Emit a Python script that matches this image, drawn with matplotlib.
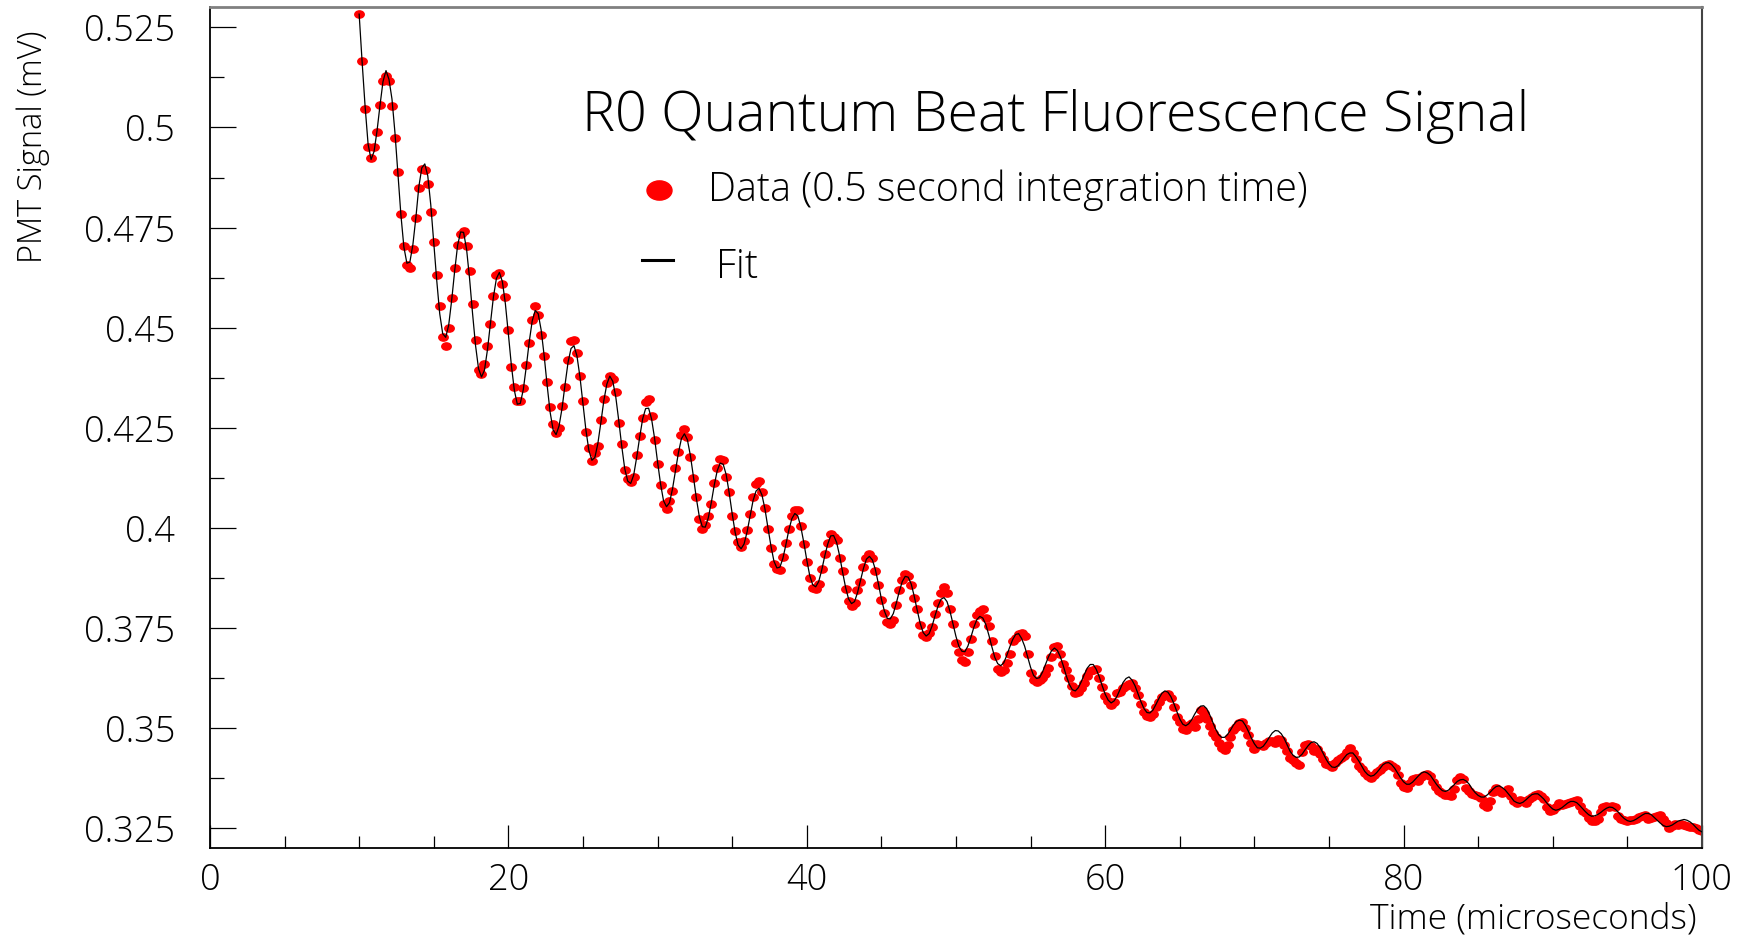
"""R0 quantum beat fluorescence signal: PMT data with the fitted curve overlaid."""
import numpy as np
import matplotlib
matplotlib.use("Agg")
import matplotlib.pyplot as plt
from matplotlib import font_manager
from matplotlib.lines import Line2D
from matplotlib.path import Path
from matplotlib.ticker import MultipleLocator
from matplotlib.transforms import Affine2D

# ---- data (signal in mV, one sample every 0.2 us from 10 us) ----
T_START, T_STEP = 10.0, 0.2

signal = [
    0.5284, 0.5165, 0.5046, 0.4950, 0.4923, 0.4952, 0.4988, 0.5057, 0.5117, 0.5128,
    0.5117, 0.5054, 0.4973, 0.4889, 0.4785, 0.4703, 0.4656, 0.4649, 0.4696, 0.4773,
    0.4849, 0.4896, 0.4893, 0.4860, 0.4788,
    0.4713, 0.4632, 0.4553, 0.4478, 0.4455, 0.4499, 0.4575, 0.4649, 0.4707, 0.4735,
    0.4742, 0.4704, 0.4642, 0.4560, 0.4469, 0.4395, 0.4384, 0.4410, 0.4455, 0.4508,
    0.4580, 0.4631, 0.4637, 0.4610, 0.4577,
    0.4493, 0.4403, 0.4352, 0.4316, 0.4316, 0.4350, 0.4406, 0.4461, 0.4518, 0.4555,
    0.4531, 0.4481, 0.4430, 0.4364, 0.4302, 0.4259, 0.4236, 0.4249, 0.4305, 0.4352,
    0.4420, 0.4466, 0.4470, 0.4438, 0.4380,
    0.4316, 0.4240, 0.4200, 0.4168, 0.4186, 0.4205, 0.4270, 0.4322, 0.4362, 0.4380,
    0.4373, 0.4340, 0.4262, 0.4210, 0.4145, 0.4122, 0.4114, 0.4128, 0.4182, 0.4230,
    0.4275, 0.4315, 0.4321, 0.4280, 0.4220,
    0.4160, 0.4108, 0.4060, 0.4048, 0.4066, 0.4092, 0.4150, 0.4190, 0.4232, 0.4246,
    0.4228, 0.4178, 0.4124, 0.4078, 0.4022, 0.3998, 0.4008, 0.4030, 0.4060, 0.4112,
    0.4150, 0.4172, 0.4170, 0.4128, 0.4090,
    0.4030, 0.3992, 0.3965, 0.3952, 0.3968, 0.3995, 0.4035, 0.4078, 0.4110, 0.4118,
    0.4090, 0.4050, 0.3998, 0.3950, 0.3910, 0.3898, 0.3895, 0.3928, 0.3962, 0.3998,
    0.4030, 0.4045, 0.4044, 0.4005, 0.3960,
    0.3915, 0.3875, 0.3850, 0.3848, 0.3860, 0.3898, 0.3934, 0.3962, 0.3985, 0.3978,
    0.3970, 0.3925, 0.3893, 0.3848, 0.3818, 0.3805, 0.3812, 0.3845, 0.3866, 0.3903,
    0.3926, 0.3936, 0.3925, 0.3892, 0.3858,
    0.3820, 0.3788, 0.3765, 0.3760, 0.3770, 0.3808, 0.3845, 0.3870, 0.3884, 0.3880,
    0.3858, 0.3826, 0.3798, 0.3758, 0.3733, 0.3727, 0.3738, 0.3752, 0.3786, 0.3812,
    0.3838, 0.3852, 0.3838, 0.3798, 0.3760,
    0.3712, 0.3690, 0.3670, 0.3666, 0.3690, 0.3722, 0.3760, 0.3782, 0.3792, 0.3797,
    0.3774, 0.3756, 0.3718, 0.3680, 0.3648, 0.3640, 0.3646, 0.3662, 0.3686, 0.3718,
    0.3726, 0.3735, 0.3738, 0.3729, 0.3684,
    0.3638, 0.3620, 0.3615, 0.3620, 0.3626, 0.3635, 0.3650, 0.3677, 0.3703, 0.3705,
    0.3684, 0.3660, 0.3645, 0.3625, 0.3605, 0.3587, 0.3590, 0.3600, 0.3612, 0.3630,
    0.3642, 0.3645, 0.3648, 0.3626, 0.3604,
    0.3580, 0.3568, 0.3558, 0.3566, 0.3588, 0.3590, 0.3600, 0.3606, 0.3610, 0.3612,
    0.3600, 0.3583, 0.3560, 0.3540, 0.3530, 0.3528, 0.3536, 0.3552, 0.3566, 0.3578,
    0.3584, 0.3586, 0.3575, 0.3552, 0.3529,
    0.3515, 0.3497, 0.3496, 0.3508, 0.3512, 0.3502, 0.3522, 0.3545, 0.3538, 0.3524,
    0.3505, 0.3489, 0.3478, 0.3462, 0.3450, 0.3446, 0.3457, 0.3478, 0.3496, 0.3504,
    0.3512, 0.3516, 0.3500, 0.3482, 0.3462,
    0.3448, 0.3461, 0.3457, 0.3455, 0.3462, 0.3467, 0.3469, 0.3464, 0.3474, 0.3470,
    0.3458, 0.3444, 0.3425, 0.3420, 0.3414, 0.3408, 0.3440, 0.3458, 0.3460, 0.3456,
    0.3442, 0.3448, 0.3435, 0.3422, 0.3410,
    0.3408, 0.3404, 0.3414, 0.3420, 0.3425, 0.3430, 0.3440, 0.3450, 0.3438, 0.3422,
    0.3406, 0.3398, 0.3388, 0.3380, 0.3376, 0.3384, 0.3390, 0.3396, 0.3402, 0.3408,
    0.3410, 0.3405, 0.3401, 0.3382, 0.3362,
    0.3352, 0.3350, 0.3362, 0.3374, 0.3375, 0.3368, 0.3378, 0.3384, 0.3386, 0.3381,
    0.3365, 0.3352, 0.3344, 0.3338, 0.3334, 0.3332, 0.3331, 0.3348, 0.3370, 0.3377,
    0.3372, 0.3351, 0.3342, 0.3336, 0.3333,
    0.3330, 0.3325, 0.3308, 0.3304, 0.3318, 0.3340, 0.3350, 0.3344, 0.3337, 0.3340,
    0.3348, 0.3331, 0.3318, 0.3313, 0.3320, 0.3318, 0.3313, 0.3323, 0.3329, 0.3333,
    0.3336, 0.3330, 0.3322, 0.3302, 0.3292,
    0.3296, 0.3304, 0.3313, 0.3309, 0.3310, 0.3313, 0.3315, 0.3318, 0.3321, 0.3305,
    0.3294, 0.3287, 0.3275, 0.3268, 0.3267, 0.3272, 0.3290, 0.3302, 0.3306, 0.3304,
    0.3305, 0.3302, 0.3280, 0.3274, 0.3270,
    0.3269, 0.3270, 0.3271, 0.3272, 0.3277, 0.3280, 0.3283, 0.3272, 0.3275, 0.3279,
    0.3281, 0.3283, 0.3272, 0.3262, 0.3250, 0.3256, 0.3261, 0.3258, 0.3261, 0.3259,
    0.3256, 0.3254, 0.3253, 0.3250, 0.3246,
    0.3242,
]

fit = [
    0.5283, 0.5163, 0.5052, 0.4958, 0.4920, 0.4940, 0.4992, 0.5056, 0.5115, 0.5142,
    0.5120, 0.5071, 0.4987, 0.4883, 0.4781, 0.4701, 0.4661, 0.4664, 0.4707, 0.4774,
    0.4852, 0.4899, 0.4909, 0.4879, 0.4807,
    0.4713, 0.4618, 0.4535, 0.4485, 0.4476, 0.4506, 0.4568, 0.4641, 0.4706, 0.4739,
    0.4738, 0.4696, 0.4623, 0.4536, 0.4456, 0.4398, 0.4377, 0.4394, 0.4445, 0.4511,
    0.4577, 0.4623, 0.4638, 0.4615, 0.4560,
    0.4485, 0.4407, 0.4344, 0.4309, 0.4311, 0.4345, 0.4402, 0.4465, 0.4517, 0.4543,
    0.4535, 0.4494, 0.4430, 0.4356, 0.4289, 0.4245, 0.4233, 0.4255, 0.4299, 0.4358,
    0.4413, 0.4448, 0.4455, 0.4429, 0.4377,
    0.4310, 0.4244, 0.4193, 0.4169, 0.4176, 0.4211, 0.4263, 0.4318, 0.4359, 0.4379,
    0.4366, 0.4327, 0.4268, 0.4204, 0.4148, 0.4117, 0.4111, 0.4132, 0.4176, 0.4226,
    0.4272, 0.4298, 0.4299, 0.4272, 0.4224,
    0.4165, 0.4110, 0.4068, 0.4053, 0.4063, 0.4097, 0.4143, 0.4188, 0.4223, 0.4235,
    0.4220, 0.4181, 0.4129, 0.4074, 0.4028, 0.4003, 0.4002, 0.4025, 0.4063, 0.4107,
    0.4143, 0.4162, 0.4159, 0.4133, 0.4088,
    0.4036, 0.3989, 0.3957, 0.3948, 0.3960, 0.3990, 0.4029, 0.4068, 0.4092, 0.4099,
    0.4082, 0.4047, 0.4000, 0.3955, 0.3917, 0.3900, 0.3902, 0.3924, 0.3958, 0.3995,
    0.4023, 0.4036, 0.4030, 0.4003, 0.3964,
    0.3920, 0.3881, 0.3858, 0.3853, 0.3866, 0.3894, 0.3929, 0.3959, 0.3980, 0.3981,
    0.3964, 0.3931, 0.3890, 0.3852, 0.3823, 0.3811, 0.3816, 0.3838, 0.3868, 0.3899,
    0.3922, 0.3929, 0.3920, 0.3896, 0.3861,
    0.3823, 0.3793, 0.3774, 0.3773, 0.3786, 0.3812, 0.3841, 0.3866, 0.3879, 0.3877,
    0.3860, 0.3830, 0.3795, 0.3762, 0.3739, 0.3730, 0.3736, 0.3755, 0.3781, 0.3805,
    0.3822, 0.3826, 0.3816, 0.3792, 0.3761,
    0.3729, 0.3704, 0.3692, 0.3691, 0.3705, 0.3727, 0.3752, 0.3771, 0.3779, 0.3775,
    0.3759, 0.3733, 0.3704, 0.3677, 0.3661, 0.3656, 0.3663, 0.3681, 0.3702, 0.3721,
    0.3734, 0.3736, 0.3724, 0.3705, 0.3679,
    0.3652, 0.3632, 0.3624, 0.3626, 0.3640, 0.3659, 0.3678, 0.3693, 0.3700, 0.3694,
    0.3678, 0.3655, 0.3630, 0.3609, 0.3596, 0.3593, 0.3601, 0.3616, 0.3634, 0.3650,
    0.3659, 0.3659, 0.3647, 0.3629, 0.3606,
    0.3585, 0.3570, 0.3563, 0.3568, 0.3580, 0.3597, 0.3614, 0.3624, 0.3628, 0.3620,
    0.3606, 0.3586, 0.3566, 0.3549, 0.3539, 0.3538, 0.3545, 0.3559, 0.3574, 0.3587,
    0.3593, 0.3590, 0.3579, 0.3562, 0.3542,
    0.3523, 0.3510, 0.3506, 0.3511, 0.3521, 0.3535, 0.3547, 0.3555, 0.3556, 0.3549,
    0.3534, 0.3516, 0.3498, 0.3484, 0.3477, 0.3477, 0.3484, 0.3495, 0.3508, 0.3517,
    0.3520, 0.3518, 0.3507, 0.3492, 0.3475,
    0.3461, 0.3451, 0.3450, 0.3455, 0.3465, 0.3477, 0.3488, 0.3494, 0.3493, 0.3486,
    0.3474, 0.3458, 0.3442, 0.3432, 0.3427, 0.3428, 0.3435, 0.3446, 0.3456, 0.3464,
    0.3466, 0.3462, 0.3452, 0.3438, 0.3423,
    0.3411, 0.3403, 0.3402, 0.3406, 0.3415, 0.3425, 0.3434, 0.3438, 0.3438, 0.3429,
    0.3418, 0.3405, 0.3392, 0.3384, 0.3380, 0.3382, 0.3389, 0.3398, 0.3408, 0.3413,
    0.3414, 0.3409, 0.3400, 0.3388, 0.3376,
    0.3366, 0.3360, 0.3360, 0.3365, 0.3373, 0.3381, 0.3388, 0.3391, 0.3388, 0.3382,
    0.3371, 0.3360, 0.3351, 0.3344, 0.3342, 0.3345, 0.3352, 0.3359, 0.3367, 0.3371,
    0.3372, 0.3368, 0.3360, 0.3348, 0.3339,
    0.3332, 0.3328, 0.3328, 0.3333, 0.3340, 0.3348, 0.3354, 0.3356, 0.3352, 0.3346,
    0.3337, 0.3328, 0.3318, 0.3314, 0.3312, 0.3315, 0.3321, 0.3328, 0.3334, 0.3336,
    0.3336, 0.3330, 0.3323, 0.3313, 0.3305,
    0.3298, 0.3295, 0.3297, 0.3301, 0.3307, 0.3313, 0.3317, 0.3317, 0.3314, 0.3307,
    0.3299, 0.3291, 0.3284, 0.3280, 0.3281, 0.3284, 0.3289, 0.3295, 0.3300, 0.3303,
    0.3302, 0.3297, 0.3290, 0.3281, 0.3274,
    0.3269, 0.3267, 0.3269, 0.3273, 0.3278, 0.3283, 0.3287, 0.3287, 0.3284, 0.3277,
    0.3270, 0.3263, 0.3257, 0.3254, 0.3255, 0.3258, 0.3263, 0.3268, 0.3270, 0.3272,
    0.3270, 0.3266, 0.3260, 0.3252, 0.3245,
    0.3241,
]

x_ticks = [0, 20, 40, 60, 80, 100]
y_ticks = [0.325, 0.35, 0.375, 0.4, 0.425, 0.45, 0.475, 0.5, 0.525]
y_tick_labels = ["0.325", "0.35", "0.375", "0.4", "0.425", "0.45", "0.475", "0.5", "0.525"]

TITLE = "R0 Quantum Beat Fluorescence Signal"
DATA_LABEL = "Data (0.5 second integration time)"
FIT_LABEL = "Fit"

t = T_START + T_STEP * np.arange(len(signal))


def thin_family():
    """First installed family that has a light face, else DejaVu Sans."""
    for fam in ["Open Sans", "Inter", "Roboto", "Lato", "DejaVu Sans"]:
        for f in font_manager.fontManager.ttflist:
            w = f.weight
            if isinstance(w, str):
                w = font_manager.weight_dict.get(w, 400)
            if f.name == fam and w <= 300 and f.style == "normal":
                return fam
    return "DejaVu Sans"


FAM = thin_family()
plt.rcParams.update({"font.family": FAM, "font.weight": "light"})

# slightly wide ellipse dots, like the original's markers
ellipse = Path.unit_circle().transformed(Affine2D().scale(1.3, 1.0))
RED = "#ff0000"

fig = plt.figure(figsize=(17.51, 9.39), dpi=100)
ax = fig.add_axes([0.1199, 0.0966, 0.8521, 0.8956])

ax.plot(t, signal, ls="none", marker=ellipse, ms=6.8, color=RED, mec=RED, zorder=2)
ax.plot(t, fit, color="black", lw=0.9, zorder=3)

ax.set_xlim(0, 100)
ax.set_ylim(0.32, 0.53)
ax.set_xticks(x_ticks)
ax.set_xticklabels([str(v) for v in x_ticks])
ax.xaxis.set_minor_locator(MultipleLocator(5))
ax.set_yticks(y_ticks)
ax.set_yticklabels(y_tick_labels)
ax.yaxis.set_minor_locator(MultipleLocator(0.0125))

ax.tick_params(which="both", direction="in", top=False, right=False,
               width=0.9, color="black", labelsize=26, labelcolor="black")
ax.tick_params(axis="x", which="major", length=16.5, pad=10)
ax.tick_params(axis="x", which="minor", length=9)
ax.tick_params(axis="y", which="major", length=18.5, pad=25)
ax.tick_params(axis="y", which="minor", length=10)

for sp in ("left", "bottom"):
    ax.spines[sp].set_color("black")
    ax.spines[sp].set_linewidth(1.3)
ax.spines["top"].set_color("#808080")
ax.spines["top"].set_linewidth(2.0)
ax.spines["right"].set_color("#444444")
ax.spines["right"].set_linewidth(1.5)

# title and hand-placed legend inside the frame
fig.text(0.6028, 0.8605, TITLE, ha="center", va="baseline", fontsize=40)
fig.add_artist(Line2D([0.3764], [0.7977], transform=fig.transFigure, ls="none",
                      marker=ellipse, ms=18, color=RED, mec=RED))
fig.text(0.4043, 0.7859, DATA_LABEL, ha="left", va="baseline", fontsize=28.5)
fig.add_artist(Line2D([0.3666, 0.3843], [0.7231, 0.7231], transform=fig.transFigure,
                      color="black", lw=2.2))
fig.text(0.4089, 0.7039, FIT_LABEL, ha="left", va="baseline", fontsize=28.5)

fig.text(0.0188, 0.967, "PMT Signal (mV)", rotation=90, ha="center", va="top", fontsize=23.5)
fig.text(0.969, 0.0115, "Time (microseconds)", ha="right", va="baseline", fontsize=25.5)

fig.savefig("out.png", dpi=100, facecolor="white")
